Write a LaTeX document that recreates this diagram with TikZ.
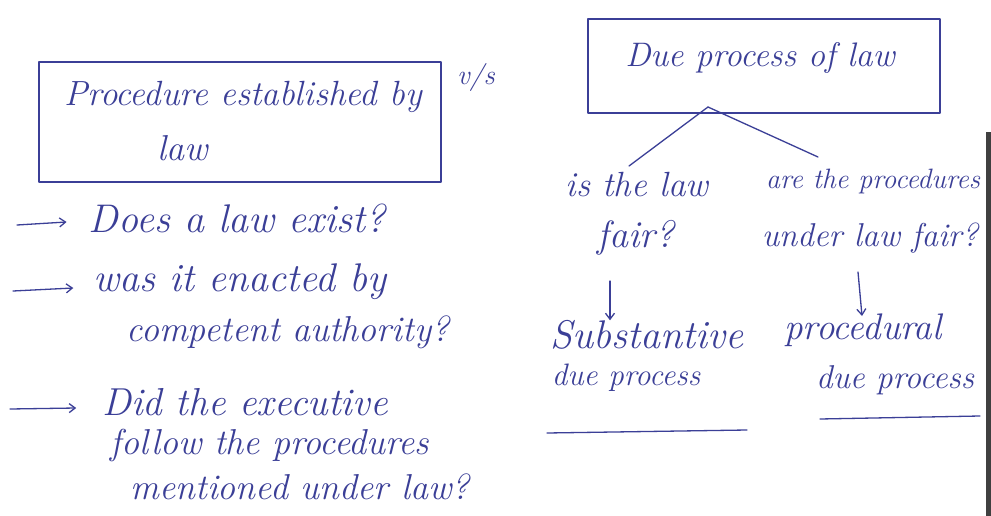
\documentclass[tikz,border=0pt]{standalone}
\usepackage{fontspec}
\usetikzlibrary{arrows.meta,calc}
\definecolor{ink}{HTML}{3B3F97}
\begin{document}
\begin{tikzpicture}[x=1pt,y=-1pt,
  every node/.style={text=ink,font=\itshape\fontsize{34}{36}\selectfont,inner sep=0pt},
  fs/.style={font=\itshape\fontsize{#1}{#1}\selectfont},
  stroke/.style={draw=ink,line width=1.3pt,line cap=round,line join=round},
  titlebox/.style={stroke,rectangle},
  pointer/.style={stroke,-{Straight Barb[length=6pt,width=9pt]}},
  plain/.style={align=center}]
\useasboundingbox (0,0) rectangle (991,516);
\fill[white] (0,0) rectangle (991,516);
% dark edge strip on the right
\fill[black!75] (986,132) rectangle (991,516);

% left heading box
\node[titlebox,minimum width=402pt,minimum height=120pt] (pel) at (240,122) {};
\node[plain,fs=35] (pelA) at (243,97) {Procedure established by};
\node[plain,fs=36] (pelB) at (183,148) {law};
\node[plain,fs=28] (vs) at (476,78) {v/s};

% right heading box
\node[titlebox,minimum width=352pt,minimum height=94pt] (dpl) at (764,66) {};
\node[plain,fs=34] (dplT) at (760,58) {Due process of law};
\coordinate (apex) at (708,107);

% left checklist
\node[plain,fs=40] (q1) at (237,218) {Does a law exist?};
\node[plain,fs=40] (q2) at (240,282) {was it enacted by};
\node[plain,fs=36] (q2b) at (288,332) {competent authority?};
\node[plain,fs=39] (q3) at (245,402) {Did the executive};
\node[plain,fs=36] (q3b) at (270,445) {follow the procedures};
\node[plain,fs=36] (q3c) at (300,487) {mentioned under law?};
\coordinate (a1) at (17,225);
\coordinate (a2) at (13,291);
\coordinate (a3) at (10,409);
\draw[pointer] (a1) -- ($(q1.west)+(-22,4)$);
\draw[pointer] (a2) -- ($(q2.west)+(-20,6)$);
\draw[pointer] (a3) -- ($(q3.west)+(-26,6)$);

% branches under due process
\node[plain,fs=35] (fairA) at (637,185) {is the law};
\node[plain,fs=38] (fairB) at (636,238) {fair?};
\node[plain,fs=28,anchor=west] (procA) at (766,182) {are the procedures};
\node[plain,fs=33] (procB) at (870,238) {under law fair?};
\draw[stroke] (apex) -- (629,166);
\draw[stroke] (apex) -- (818,157);

\node[plain,fs=40] (sub) at (647,335) {Substantive};
\node[plain,fs=31] (subB) at (626,378) {due process};
\node[plain,fs=37] (pro) at (863,330) {procedural};
\node[plain,fs=33] (proB) at (895,380) {due process};
\draw[pointer] (610,281) -- (sub.north -| 610,0);
\draw[pointer] (858,272) -- (862,316);

% underlines
\draw[stroke] (547,433) -- (747,430);
\draw[stroke] (820,419) -- (980,416);
\end{tikzpicture}
\end{document}
